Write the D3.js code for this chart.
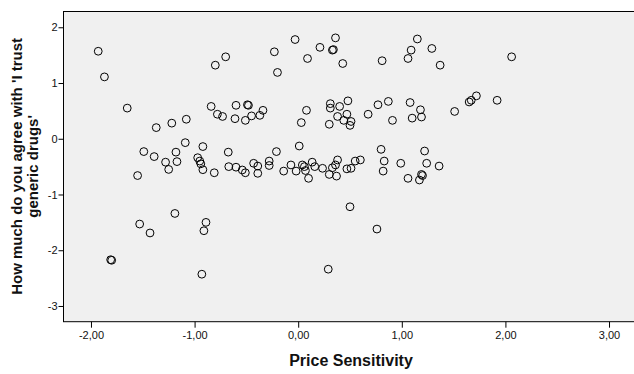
<!DOCTYPE html>
<html>
<head>
<meta charset="utf-8">
<script src="https://cdn.jsdelivr.net/npm/d3@7"></script>
<style>
  html, body { margin: 0; padding: 0; background: #ffffff; }
  svg { display: block; font-family: "Liberation Sans", Arial, sans-serif; }
</style>
</head>
<body>
<svg id="chart" width="634" height="374"></svg>
<script>
// Price sensitivity (x) against agreement with "I trust generic drugs" (y)
const priceSensitivity = [
  -1.93, -1.87, -1.65, -1.37, -1.22, -1.08, -1.49, -1.39, -1.28, -1.18,
  -1.17, -1.09, -0.92, -0.97, -0.95, -0.94, -0.92, -0.675, -0.80, -0.70,
  -0.84, -0.78, -0.73, -0.60, -0.61, -0.49, -0.48, -0.51, -0.45, -0.37,
  -0.34, -0.43, -1.55, -1.25, -0.81, -0.67, -0.60, -0.54, -0.51, -0.39,
  -0.39, -1.53, -1.43, -1.19, -0.89, -0.91, -1.81, -1.80, -0.93, -0.23,
  -0.20, -0.03, 0.09, 0.21, 0.36, 0.33, 0.34, 0.43, 0.81, 1.06,
  1.09, 1.15, 1.29, 1.37, 2.06, 0.08, 0.03, 0.31, 0.31, 0.40,
  0.48, 0.38, 0.47, 0.44, 0.51, 0.50, 0.30, 0.675, 0.77, 0.87,
  0.91, 1.08, 1.18, 1.10, 1.19, 1.51, 1.65, 1.67, 1.72, 1.92,
  0.01, -0.21, 0.80, 1.22, -0.28, -0.28, -0.07, 0.04, 0.06, 0.135,
  0.16, 0.235, 0.33, 0.36, 0.38, 0.47, 0.51, 0.55, 0.60, 0.83,
  0.99, 1.24, 1.36, -0.14, -0.02, 0.07, 0.10, 0.30, 0.37, 0.82,
  1.06, 1.17, 1.19, 1.20, 0.50, 0.76, 0.29
];
const trustGeneric = [
  1.57, 1.11, 0.55, 0.20, 0.28, 0.35, -0.23, -0.32, -0.42, -0.24,
  -0.41, -0.07, -0.14, -0.34, -0.40, -0.45, -0.555, -0.24, 1.32, 1.47,
  0.58, 0.44, 0.40, 0.60, 0.36, 0.61, 0.60, 0.33, 0.41, 0.42,
  0.51, -0.44, -0.66, -0.55, -0.61, -0.50, -0.51, -0.56, -0.61, -0.49,
  -0.62, -1.53, -1.69, -1.34, -1.50, -1.65, -2.17, -2.18, -2.43, 1.56,
  1.19, 1.78, 1.44, 1.64, 1.81, 1.59, 1.60, 1.35, 1.40, 1.44,
  1.59, 1.79, 1.62, 1.32, 1.47, 0.51, 0.29, 0.63, 0.55, 0.58,
  0.68, 0.40, 0.44, 0.33, 0.31, 0.24, 0.26, 0.44, 0.61, 0.67,
  0.33, 0.65, 0.52, 0.37, 0.39, 0.49, 0.66, 0.69, 0.77, 0.69,
  -0.13, -0.23, -0.19, -0.22, -0.40, -0.48, -0.47, -0.47, -0.50, -0.42,
  -0.50, -0.53, -0.52, -0.47, -0.38, -0.54, -0.53, -0.40, -0.38, -0.40,
  -0.44, -0.44, -0.49, -0.58, -0.58, -0.57, -0.71, -0.64, -0.67, -0.58,
  -0.71, -0.74, -0.64, -0.66, -1.22, -1.62, -2.34
];
const xTickValues = [-2, -1, 0, 1, 2, 3];
const yTickValues = [-3, -2, -1, 0, 1, 2];
const xTitle = "Price Sensitivity";
const yTitleLines = ["How much do you agree with 'I trust", "generic drugs'"];

const svg = d3.select("#chart");
const plotLeft = 63, plotRight = 637, plotTop = 11, plotBottom = 321.7;

const x = d3.scaleLinear().domain([-2.27, 3.27]).range([plotLeft, plotRight]);
const y = d3.scaleLinear().domain([-3.282, 2.292]).range([plotBottom, plotTop]);

// plot background and frame
svg.append("rect")
  .attr("x", plotLeft + 0.5).attr("y", plotTop + 0.5)
  .attr("width", plotRight - plotLeft).attr("height", plotBottom - plotTop - 0.5)
  .attr("fill", "#f0f0f0").attr("stroke", "#000").attr("stroke-width", 1);

const commaFmt = v => d3.format(".2f")(v).replace(".", ",").replace("\u2212", "-");

const xAxis = svg.append("g")
  .attr("transform", `translate(0,${plotBottom})`)
  .call(d3.axisBottom(x).tickValues(xTickValues).tickSize(6).tickSizeOuter(0).tickFormat(commaFmt));
xAxis.select(".domain").remove();
xAxis.selectAll("text").attr("font-size", 11).attr("fill", "#111").attr("dy", "0.71em").attr("y", 10)
  .style("font-family", "Liberation Sans, Arial, sans-serif");
xAxis.selectAll("line").attr("stroke", "#000");

const yAxis = svg.append("g")
  .attr("transform", `translate(${plotLeft + 0.5},0)`)
  .call(d3.axisLeft(y).tickValues(yTickValues).tickSize(5).tickSizeOuter(0)
    .tickFormat(v => d3.format("d")(v).replace("\u2212", "-")));
yAxis.select(".domain").remove();
yAxis.selectAll("text").attr("font-size", 11).attr("fill", "#111").attr("x", -6)
  .style("font-family", "Liberation Sans, Arial, sans-serif");
yAxis.selectAll("line").attr("stroke", "#000");

// points
const pts = priceSensitivity.map((v, i) => ({ x: v, y: trustGeneric[i] }));
svg.append("g")
  .selectAll("circle")
  .data(pts)
  .join("circle")
  .attr("cx", d => x(d.x))
  .attr("cy", d => y(d.y))
  .attr("r", 3.9)
  .attr("fill", "none")
  .attr("stroke", "#000")
  .attr("stroke-width", 1);

// axis titles
svg.append("text")
  .attr("x", 351).attr("y", 366)
  .attr("text-anchor", "middle")
  .attr("font-size", 16).attr("font-weight", "bold").attr("fill", "#111")
  .text(xTitle);

const yt = svg.append("text")
  .attr("transform", `translate(22,${(plotTop + plotBottom) / 2}) rotate(-90)`)
  .attr("text-anchor", "middle")
  .attr("font-size", 15).attr("font-weight", "bold").attr("fill", "#111");
yTitleLines.forEach((line, i) => {
  yt.append("tspan").attr("x", 0).attr("dy", i === 0 ? 0 : 16).text(line);
});
</script>
</body>
</html>
